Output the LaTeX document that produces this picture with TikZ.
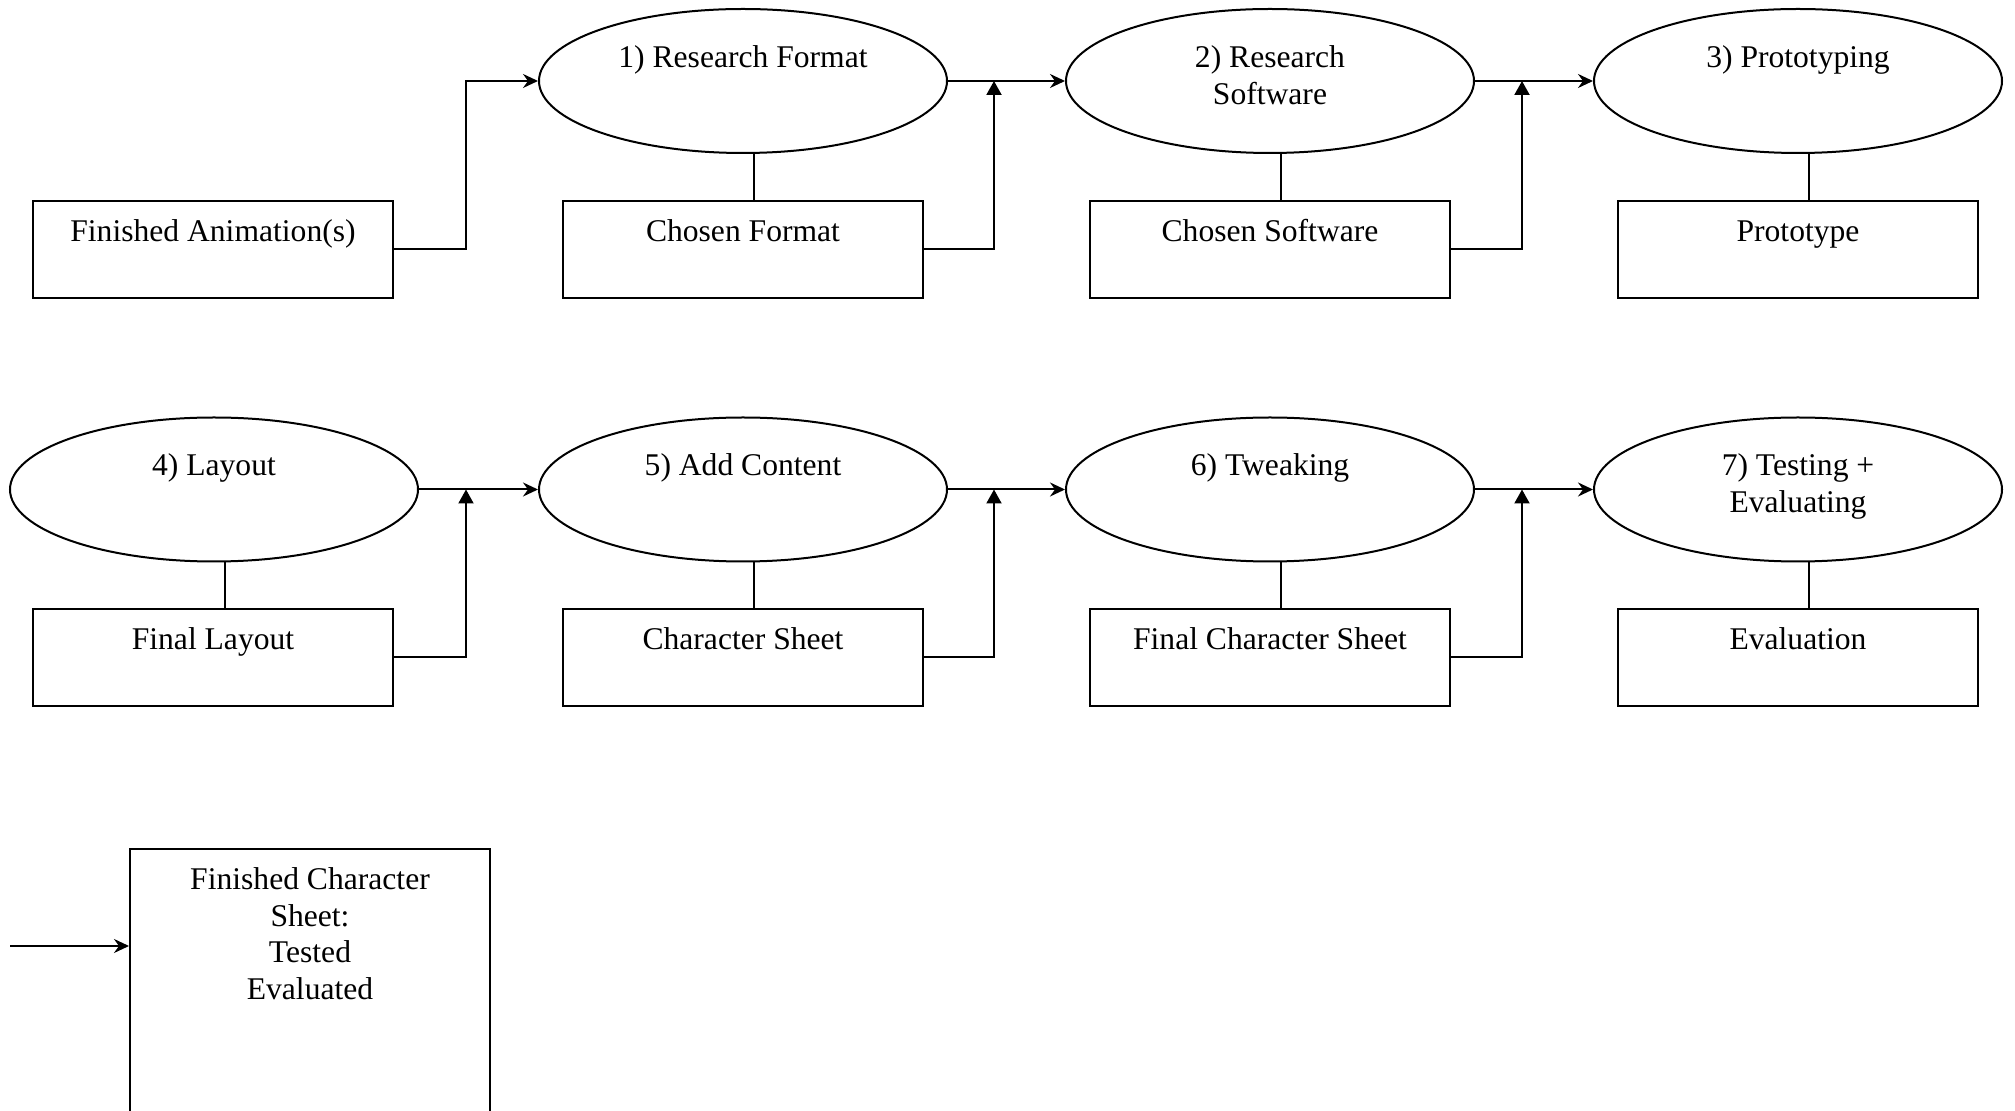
\documentclass[tikz,border=0pt]{standalone}
\usepackage{fontspec}
\setmainfont{Liberation Serif}
\usetikzlibrary{shapes.geometric,arrows.meta}

\begin{document}
\begin{tikzpicture}[x=0.5pt,y=-0.5pt,
  stage/.style={draw, ellipse, line width=1pt, minimum width=204pt, minimum height=72pt, inner sep=0pt},
  result/.style={draw, rectangle, line width=1pt, minimum width=180pt, minimum height=48.5pt, inner sep=0pt},
  caption/.style={anchor=north, inner sep=0pt, align=center, font=\fontsize{15.8}{18.4}\selectfont},
  flow/.style={line width=1pt, -{Stealth[length=7.5pt,width=7pt,inset=2.5pt]}},
  feed/.style={line width=1pt, -{Triangle[length=7pt,width=7.5pt]}},
  link/.style={line width=0.6pt}]

\useasboundingbox (0,0) rectangle (2015,1111);
\fill[white] (0,0) rectangle (2015,1111);
\clip (0,0) rectangle (2015,1111);

% ---------- row 1 ----------
\node[stage] (e1) at (743,81) {};
\node[stage] (e2) at (1270,81) {};
\node[stage] (e3) at (1798,81) {};
\node[caption] (t1) at (743,41.2) {\strut 1) Research Format};
\node[caption] (t2) at (1270,41.2) {\strut 2) Research\\Software};
\node[caption] (t3) at (1798,41.2) {\strut 3) Prototyping};

\node[result] (b0) at (213,249.5) {};
\node[result] (b1) at (743,249.5) {};
\node[result] (b2) at (1270,249.5) {};
\node[result] (b3) at (1798,249.5) {};
\node[caption] (r0) at (213,215.2) {\strut Finished Animation(s)};
\node[caption] (r1) at (743,215.2) {\strut Chosen Format};
\node[caption] (r2) at (1270,215.2) {\strut Chosen Software};
\node[caption] (r3) at (1798,215.2) {\strut Prototype};

% ---------- row 2 ----------
\node[stage] (e4) at (214,489.5) {};
\node[stage] (e5) at (743,489.5) {};
\node[stage] (e6) at (1270,489.5) {};
\node[stage] (e7) at (1798,489.5) {};
\node[caption] (t4) at (214,449.2) {\strut 4) Layout};
\node[caption] (t5) at (743,449.2) {\strut 5) Add Content};
\node[caption] (t6) at (1270,449.2) {\strut 6) Tweaking};
\node[caption] (t7) at (1798,449.2) {\strut 7) Testing +\\Evaluating};

\node[result] (b4) at (213,657.5) {};
\node[result] (b5) at (743,657.5) {};
\node[result] (b6) at (1270,657.5) {};
\node[result] (b7) at (1798,657.5) {};
\node[caption] (r4) at (213,623.2) {\strut Final Layout};
\node[caption] (r5) at (743,623.2) {\strut Character Sheet};
\node[caption] (r6) at (1270,623.2) {\strut Final Character Sheet};
\node[caption] (r7) at (1798,623.2) {\strut Evaluation};

% ---------- final output ----------
\node[draw, rectangle, line width=1pt, minimum width=180pt, minimum height=150pt, inner sep=0pt] (b8) at (310,999) {};
\node[caption] (r8) at (310,863.2) {\strut Finished Character\\Sheet:\\Tested\\Evaluated};

% ---------- junctions ----------
\coordinate (m0) at (466,81);
\coordinate (m1) at (994,81);
\coordinate (m2) at (1522,81);
\coordinate (m4) at (466,489.5);
\coordinate (m5) at (994,489.5);
\coordinate (m6) at (1522,489.5);
\coordinate (src) at (10,946);

% ---------- connectors ----------
\draw[flow] (b0.east) -| (m0) -- (e1.west);
\draw[flow] (e1.east) -- (e2.west);
\draw[flow] (e2.east) -- (e3.west);
\draw[feed] (b1.east) -| (m1);
\draw[feed] (b2.east) -| (m2);

\draw[flow] (e4.east) -- (e5.west);
\draw[flow] (e5.east) -- (e6.west);
\draw[flow] (e6.east) -- (e7.west);
\draw[feed] (b4.east) -| (m4);
\draw[feed] (b5.east) -| (m5);
\draw[feed] (b6.east) -| (m6);

% each stage is tied to its outcome by a plain vertical stroke
\foreach \k in {1,...,7}{
  \draw[link] ([xshift=5.5pt]e\k.south) -- ([xshift=5.5pt]e\k.south |- b\k.north);
}

\draw[flow] (src) -- (src -| b8.west);
\end{tikzpicture}
\end{document}
